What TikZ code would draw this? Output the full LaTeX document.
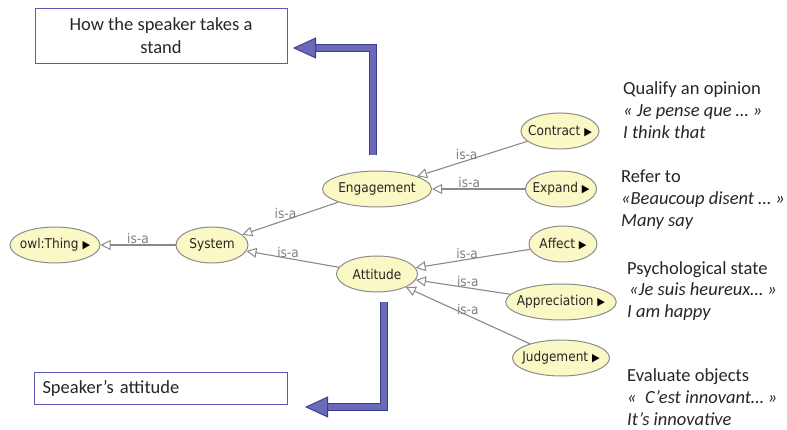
\documentclass[tikz,border=0pt]{standalone}
\usepackage{fontspec}
\setmainfont{Carlito}
\newfontfamily\owlfont[FakeStretch=0.9]{DejaVu Sans}
\usetikzlibrary{shapes.geometric,arrows.meta}
\definecolor{owlfill}{HTML}{FAF8C4}
\definecolor{owlline}{HTML}{8C8C8C}
\definecolor{isaline}{HTML}{8A8A8A}
\definecolor{boxline}{HTML}{5A5AB4}
\definecolor{bigfill}{HTML}{6A6AB8}
\definecolor{bigline}{HTML}{3C3C8C}
\newcommand{\more}{~{\fontsize{11}{11}\selectfont\color{black}▶}}
\tikzset{
  owlclass/.style={ellipse, draw=owlline, fill=owlfill, line width=1pt,
    inner xsep=-5pt, inner ysep=0pt, minimum height=36pt,
    font=\owlfont\fontsize{13.5}{14}\selectfont, text=black!85},
  isa/.style={draw=isaline, line width=1.1pt,
    -{Triangle[open, length=10pt, width=10pt, line width'=1pt]}},
  isalabel/.style={text=black!50, font=\owlfont\fontsize{13.5}{13}\selectfont, inner sep=0.5pt},
  textbox/.style={draw=boxline, line width=0.9pt, inner sep=0pt,
    font=\fontsize{18.5}{23}\selectfont, text=black!85},
  gloss/.style={anchor=west, align=left, inner sep=0pt,
    font=\fontsize{18.5}{21.8}\selectfont, text=black!85},
  bigarrow/.style={draw=bigline, line width=0.9pt, double=bigfill, double distance=5.6pt,
    -{Triangle[length=23pt, width=21pt, fill=bigfill, line width'=0.9pt]}}
}
\begin{document}
\begin{tikzpicture}[x=1pt,y=-1pt]
  \useasboundingbox (0,0) rectangle (787,430);

  % ontology classes
  \node[owlclass, minimum width=90pt]  (thing)        at (55,245)  {owl:Thing\more};
  \node[owlclass, minimum width=72pt]  (system)       at (212,245) {System};
  \node[owlclass, minimum width=109pt] (engagement)   at (377,189) {Engagement};
  \node[owlclass, minimum width=81pt]  (attitude)     at (377,274) {Attitude};
  \node[owlclass, minimum width=78pt]  (contract)     at (560,131) {Contract\more};
  \node[owlclass, minimum width=71pt]  (expand)       at (561,189) {Expand\more};
  \node[owlclass, minimum width=68pt]  (affect)       at (563,244) {Affect\more};
  \node[owlclass, minimum width=108pt] (appreciation) at (561,302) {Appreciation\more};
  \node[owlclass, minimum width=97pt]  (judgement)    at (561,358) {Judgement\more};

  % is-a links
  \draw[isa] (system) -- node[isalabel, pos=0.5, above] {is-a} (thing);
  \draw[isa] (engagement) -- node[isalabel, pos=0.55, above] {is-a} (system);
  \draw[isa] (attitude) -- node[isalabel, pos=0.55, above] {is-a} (system);
  \draw[isa] (contract) -- node[isalabel, pos=0.55, above] {is-a} (engagement);
  \draw[isa] (expand) -- node[isalabel, pos=0.6, above] {is-a} (engagement);
  \draw[isa] (affect) -- node[isalabel, pos=0.55, above] {is-a} (attitude);
  \draw[isa] (appreciation) -- node[isalabel, pos=0.45, above] {is-a} (attitude);
  \draw[isa] (judgement) -- node[isalabel, pos=0.5, above] {is-a} (attitude);

  % explanations
  \node[gloss] (contractgloss) at (623,110) {Qualify an opinion\\\textit{« Je pense que … »}\\\textit{I think that}};
  \node[gloss] (expandgloss) at (621,199.5) {Refer to\\\textit{«Beaucoup disent … »}\\\textit{Many say}};
  \node[gloss] (affectgloss) at (627,291) {Psychological state\\\hspace{2pt}\textit{«Je suis heureux… »}\\\textit{I am happy}};
  \node[gloss] (judgegloss) at (627,397) {Evaluate objects\\\textit{«~ C’est innovant… »}\\\textit{It’s innovative}};

  % boxes and big arrows
  \node[textbox, minimum width=252pt, minimum height=55pt, align=center] (stand) at (161,35.5) {How the speaker takes a\\stand};
  \node[textbox, minimum width=253pt, minimum height=32pt, text width=236pt, inner xsep=8.5pt, align=left] (attbox) at (160.5,388) {Speaker’s attitude};
  \coordinate (standfoot) at (373,155);
  \coordinate (standtip) at (293,48);
  \coordinate (attfoot) at (384,302);
  \coordinate (atttip) at (305,407);
  \draw[bigarrow] (standfoot) |- (standtip);
  \draw[bigarrow] (attfoot) |- (atttip);
\end{tikzpicture}
\end{document}
